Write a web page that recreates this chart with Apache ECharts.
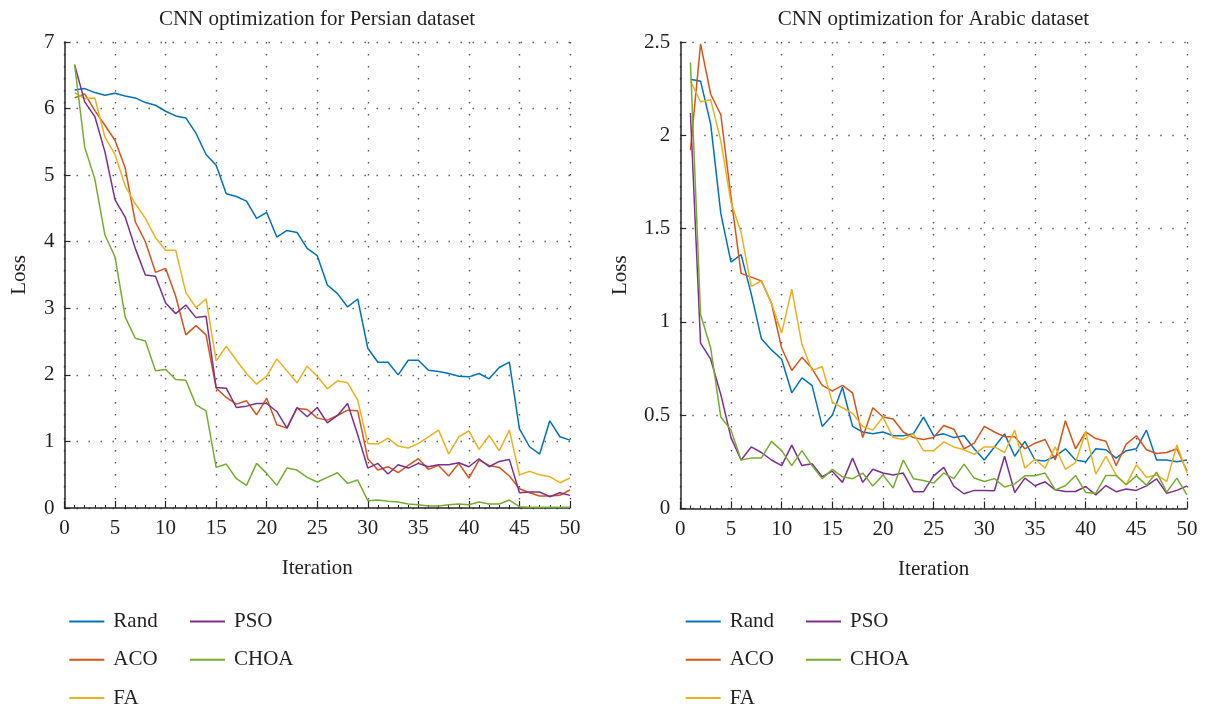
<!DOCTYPE html>
<html>
<head>
<meta charset="utf-8">
<script src="https://cdn.jsdelivr.net/npm/echarts@6/dist/echarts.min.js"></script>
<style>
html,body{margin:0;padding:0;background:#fff;}
#chart{width:1208px;height:709px;}
</style>
</head>
<body>
<div id="chart"></div>
<script>
const iterations = [1,2,3,4,5,6,7,8,9,10,11,12,13,14,15,16,17,18,19,20,21,22,23,24,25,26,27,28,29,30,31,32,33,34,35,36,37,38,39,40,41,42,43,44,45,46,47,48,49,50];
const seriesNames = ['Rand','ACO','FA','PSO','CHOA'];
const colors = ['#0072BD','#D95319','#EDB120','#7E2F8E','#77AC30'];

// Persian dataset
const persianRand = [6.28,6.30,6.24,6.20,6.23,6.19,6.16,6.09,6.05,5.96, 5.89,5.86,5.63,5.31,5.15,4.72,4.68,4.61,4.35,4.44, 4.07,4.17,4.14,3.90,3.79,3.35,3.22,3.02,3.14,2.40, 2.19,2.19,2.00,2.22,2.22,2.07,2.05,2.02,1.98,1.97, 2.02,1.94,2.11,2.19,1.19,0.92,0.81,1.31,1.07,1.02];
const persianACO = [6.16,6.22,5.97,5.75,5.52,5.11,4.30,4.00,3.54,3.60, 3.18,2.60,2.74,2.60,1.80,1.66,1.56,1.61,1.40,1.65, 1.25,1.20,1.50,1.48,1.35,1.32,1.39,1.47,1.46,0.74, 0.57,0.62,0.53,0.64,0.74,0.58,0.64,0.48,0.67,0.45, 0.72,0.64,0.61,0.48,0.29,0.23,0.18,0.18,0.19,0.27];
const persianFA = [6.24,6.15,6.16,5.57,5.31,4.84,4.57,4.35,4.06,3.87, 3.87,3.24,3.01,3.14,2.21,2.43,2.22,2.02,1.86,1.98, 2.24,2.06,1.88,2.13,1.98,1.79,1.91,1.88,1.62,0.97, 0.96,1.05,0.93,0.90,0.97,1.07,1.17,0.81,1.07,1.16, 0.88,1.09,0.86,1.17,0.50,0.55,0.50,0.47,0.38,0.45];
const persianPSO = [6.66,6.10,5.88,5.35,4.63,4.37,3.90,3.50,3.48,3.08, 2.92,3.05,2.86,2.88,1.81,1.80,1.51,1.53,1.57,1.57, 1.45,1.20,1.51,1.37,1.51,1.28,1.39,1.57,1.10,0.60, 0.67,0.51,0.65,0.60,0.67,0.62,0.65,0.65,0.68,0.62, 0.74,0.62,0.70,0.73,0.23,0.24,0.24,0.17,0.23,0.19];
const persianCHOA = [6.66,5.42,4.94,4.10,3.77,2.87,2.55,2.51,2.06,2.08, 1.93,1.92,1.55,1.46,0.61,0.66,0.44,0.34,0.67,0.52, 0.34,0.60,0.57,0.46,0.39,0.46,0.53,0.37,0.42,0.11, 0.12,0.10,0.09,0.06,0.05,0.03,0.03,0.05,0.06,0.05, 0.09,0.06,0.06,0.12,0.02,0.01,0.01,0.01,0.01,0.01];

// Arabic dataset
const arabicRand = [2.30,2.29,2.06,1.58,1.32,1.36,1.15,0.91,0.85,0.80, 0.62,0.70,0.66,0.44,0.50,0.65,0.44,0.41,0.40,0.41, 0.39,0.39,0.40,0.49,0.39,0.40,0.38,0.39,0.32,0.26, 0.33,0.40,0.28,0.36,0.26,0.255,0.28,0.32,0.26,0.25, 0.32,0.315,0.27,0.31,0.32,0.42,0.26,0.26,0.25,0.26];
const arabicACO = [1.92,2.49,2.22,2.11,1.67,1.26,1.24,1.22,1.10,0.86, 0.74,0.81,0.75,0.66,0.63,0.66,0.62,0.38,0.54,0.49, 0.48,0.41,0.38,0.37,0.38,0.445,0.425,0.32,0.35,0.44, 0.41,0.385,0.385,0.32,0.35,0.37,0.26,0.47,0.32,0.41, 0.375,0.36,0.23,0.345,0.39,0.315,0.295,0.30,0.32,0.20];
const arabicFA = [2.29,2.18,2.19,1.97,1.64,1.48,1.19,1.22,1.10,0.94, 1.175,0.88,0.74,0.76,0.57,0.54,0.51,0.44,0.42,0.49, 0.38,0.37,0.40,0.31,0.31,0.357,0.33,0.315,0.29,0.33, 0.33,0.30,0.42,0.216,0.265,0.216,0.33,0.21,0.246,0.41, 0.184,0.28,0.18,0.127,0.234,0.168,0.18,0.145,0.34,0.19];
const arabicPSO = [2.12,0.886,0.80,0.61,0.38,0.26,0.33,0.30,0.26,0.23, 0.34,0.23,0.24,0.17,0.20,0.14,0.27,0.14,0.21,0.19, 0.18,0.19,0.09,0.09,0.175,0.22,0.118,0.079,0.097,0.097, 0.095,0.28,0.086,0.163,0.122,0.143,0.10,0.091,0.091,0.118, 0.073,0.123,0.09,0.104,0.097,0.121,0.159,0.082,0.097,0.121];
const arabicCHOA = [2.39,1.04,0.86,0.49,0.42,0.26,0.27,0.27,0.36,0.31, 0.23,0.31,0.23,0.16,0.21,0.17,0.16,0.19,0.12,0.18, 0.11,0.26,0.16,0.15,0.136,0.19,0.16,0.238,0.163,0.145, 0.16,0.115,0.132,0.175,0.175,0.19,0.10,0.122,0.177,0.086, 0.082,0.177,0.177,0.127,0.175,0.125,0.195,0.088,0.163,0.073];

const titles = ['CNN optimization for Persian dataset','CNN optimization for Arabic dataset'];

const FONT = '"Liberation Serif", "DejaVu Serif", serif';
const TXT = '#231f20';
const FS = 21;

const persian = [persianRand, persianACO, persianFA, persianPSO, persianCHOA];
const arabic = [arabicRand, arabicACO, arabicFA, arabicPSO, arabicCHOA];

function pairs(vals){ return iterations.map((it, k) => [it, vals[k]]); }

const grids = [
  {left: 64.5, right: 638, top: 42, bottom: 201},
  {left: 680.3, right: 21, top: 42, bottom: 200.5}
];

function xAxisFor(i){
  return {
    type: 'value', gridIndex: i, min: 0, max: 50, interval: 5,
    name: 'Iteration', nameLocation: 'middle', nameGap: 50,
    nameTextStyle: {fontFamily: FONT, fontSize: FS, color: TXT},
    axisLine: {show: true, lineStyle: {color: '#262626', width: 1.5}},
    axisTick: {show: true, inside: true, length: 7, lineStyle: {color: '#262626', width: 1.2}},
    minorTick: {show: true, splitNumber: 5, length: 3, lineStyle: {color: '#262626', width: 1}},
    axisLabel: {fontFamily: FONT, fontSize: FS, color: TXT, margin: 10},
    splitLine: {show: true, lineStyle: {color: '#555', width: 1.4, type: [1.4, 10.6]}}
  };
}
function yAxisFor(i, max, interval, gap){
  return {
    type: 'value', gridIndex: i, min: 0, max: max, interval: interval,
    name: 'Loss', nameLocation: 'middle', nameGap: gap,
    nameTextStyle: {fontFamily: FONT, fontSize: FS, color: TXT},
    axisLine: {show: true, lineStyle: {color: '#262626', width: 1.5}},
    axisTick: {show: true, inside: true, length: 6, lineStyle: {color: '#262626', width: 1.2}},
    axisLabel: {fontFamily: FONT, fontSize: FS, color: TXT, margin: 10},
    splitLine: {show: true, lineStyle: {color: '#555', width: 1.4, type: [1.4, 10.6]}}
  };
}

const series = [];
[persian, arabic].forEach((set, gi) => {
  set.forEach((vals, k) => {
    series.push({
      name: seriesNames[k], type: 'line', xAxisIndex: gi, yAxisIndex: gi,
      data: pairs(vals), symbol: 'none', showSymbol: false,
      lineStyle: {color: colors[k], width: 1.5}, itemStyle: {color: colors[k]},
      animation: false
    });
  });
});

function legendAt(left, names){
  return {
    orient: 'vertical', left: left, top: 605.5, height: 110, width: 120,
    itemWidth: 35, itemHeight: 2,
    itemGap: 16.3, icon: 'rect', selectedMode: false, data: names,
    textStyle: {fontFamily: FONT, fontSize: FS, color: TXT, lineHeight: 22, padding: [0,0,0,4]}
  };
}

const option = {
  backgroundColor: '#fff',
  animation: false,
  color: colors,
  grid: grids,
  xAxis: [xAxisFor(0), xAxisFor(1)],
  yAxis: [yAxisFor(0, 7, 1, 35), yAxisFor(1, 2.5, 0.5, 49)],
  legend: [
    legendAt(64.3, ['Rand','ACO','FA']),
    legendAt(185, ['PSO','CHOA']),
    legendAt(680.7, ['Rand','ACO','FA']),
    legendAt(801, ['PSO','CHOA'])
  ],
  graphic: [
    {type: 'text', x: 317, y: 19, style: {text: titles[0], font: FS + 'px ' + FONT, fill: TXT, textAlign: 'center', textVerticalAlign: 'middle'}},
    {type: 'text', x: 933.5, y: 19, style: {text: titles[1], font: FS + 'px ' + FONT, fill: TXT, textAlign: 'center', textVerticalAlign: 'middle'}}
  ],
  series: series
};

const chart = echarts.init(document.getElementById('chart'), null, {renderer: 'canvas'});
chart.setOption(option);
</script>
</body>
</html>
